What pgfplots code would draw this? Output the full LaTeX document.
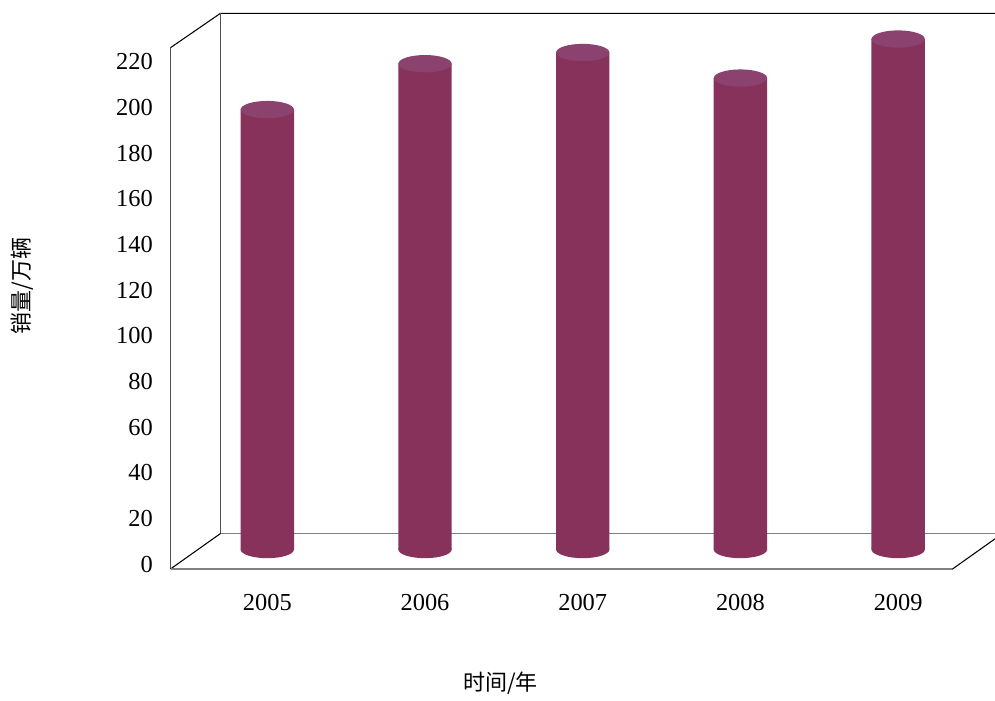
\documentclass[border=0pt]{standalone}
\usepackage{fontspec}
\setmainfont{Liberation Serif}
\newfontfamily\cjk{Noto Sans CJK SC}
\usepackage{pgfplots}
\usepackage{pgfplotstable}
\pgfplotsset{compat=1.18}
\definecolor{cylbody}{RGB}{134,50,90}
\definecolor{cyltop}{RGB}{139,66,111}
\definecolor{floorgray}{RGB}{128,128,128}
\definecolor{wallgray}{RGB}{80,80,80}
\pgfdeclareplotmark{ell}{\pgfpathellipse{\pgfpointorigin}{\pgfqpoint{20pt}{0pt}}{\pgfqpoint{0pt}{6.5pt}}\pgfusepathqfill}

\pgfplotstableread{
x y
0 192.7
1 212.8
2 217.7
3 206.5
4 223.6
}\salesdata

\begin{document}
\begin{tikzpicture}
\begin{scope}[shift={(-146.25pt,412.125pt)},x=0.75pt,y=-0.75pt]
\path[use as bounding box] (0,0) rectangle (995,700);
% 3D frame (walls and floor)
\draw[wallgray, line width=1pt] (170.5,569) -- (170.5,47.7);
\draw[black, line width=0.8pt] (170.5,47.7) -- (220.5,13.3) -- (1000,13.3);
\draw[wallgray, line width=1pt] (220.5,13.3) -- (220.5,533.5);
\draw[floorgray, line width=1.4pt] (220.5,533.5) -- (1000,533.5);
\draw[black, line width=0.8pt] (170.5,569) -- (220.5,533.5);
\draw[floorgray, line width=1.4pt] (170.5,569) -- (952.5,569);
\draw[black, line width=0.8pt] (952.5,569) -- (1002.5,533.5);
\end{scope}
\begin{axis}[
  at={(0pt,0pt)}, anchor=south west,
  scale only axis,
  width=586.5pt, height=393.8pt,
  xmin=-0.4585, xmax=4.5, ymin=0, ymax=230,
  axis lines*=left, axis line style={draw=none},
  major tick length=0pt,
  xtick={0,1,2,3,4},
  xticklabels={2005,2006,2007,2008,2009},
  ytick={0,20,...,220},
  /pgf/number format/assume math mode=true,
  ticklabel style={font=\fontsize{18.3}{20}\selectfont},
  yticklabel style={anchor=east, inner sep=0pt, xshift=-31.5pt, yshift=-10.9pt},
  xticklabel style={anchor=center, inner sep=0pt, yshift=-40.1pt},
  xlabel={\cjk 时间/年},
  ylabel={\cjk 销量/万辆},
  label style={font=\cjk\fontsize{16.5}{18}\selectfont},
  xlabel style={at={(axis description cs:0.3907,-0.2552)}, anchor=center},
  ylabel style={at={(axis description cs:-0.2208,0.5018)}, anchor=center},
  clip=false,
]
\addplot[only marks, mark=ell, mark options={fill=cylbody, draw=none}]
  coordinates {(0,0) (1,0) (2,0) (3,0) (4,0)};
\addplot[ybar, bar width=0.3386, fill=cylbody, draw=none] table[x=x,y=y] {\salesdata};
\addplot[only marks, mark=ell, mark options={fill=cyltop, draw=none}] table[x=x,y=y] {\salesdata};
\end{axis}
\end{tikzpicture}
\end{document}
